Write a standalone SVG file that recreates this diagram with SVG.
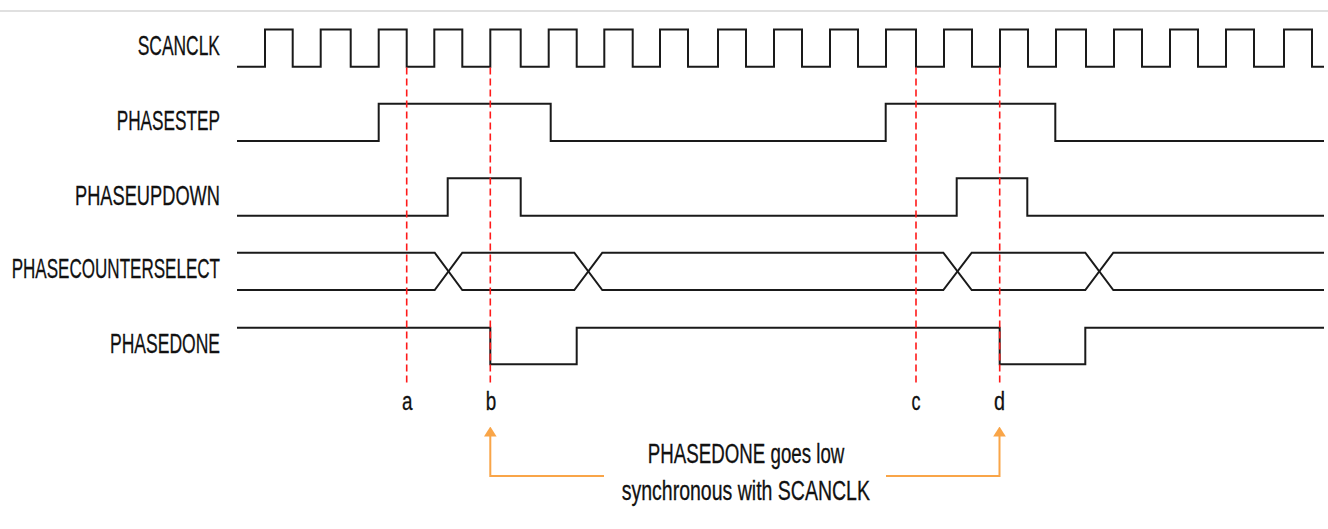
<svg xmlns="http://www.w3.org/2000/svg" width="1328" height="529" viewBox="0 0 1328 529">
<style>
.lbl{font-family:"Liberation Sans",Arial,sans-serif;font-size:28px;fill:#111;stroke:#111;stroke-width:0.3}
.ann{font-family:"Liberation Sans",Arial,sans-serif;font-size:27px;fill:#111;stroke:#111;stroke-width:0.3}
.let{font-family:"Liberation Sans",Arial,sans-serif;font-size:26px;fill:#111;stroke:#111;stroke-width:0.3;text-anchor:middle}
.wave{fill:none;stroke:#1a1a1a;stroke-width:2;stroke-linejoin:miter}
.mark{stroke:#ff1a1a;stroke-width:1.6;stroke-dasharray:7 4;fill:none}
.conn{fill:none;stroke:#f9a548;stroke-width:2}
</style>
<defs>
<marker id="arr" viewBox="0 0 10 12.6" markerWidth="10" markerHeight="12.6" refX="4.5" refY="6.3" orient="auto" markerUnits="userSpaceOnUse">
<path d="M0,0 L10,6.3 L0,12.6 z" fill="#f9a548"/>
</marker>
</defs>
<rect width="1328" height="529" fill="#fff"/>
<line x1="0" y1="11" x2="1328" y2="11" stroke="#d6d6d6" stroke-width="1.5"/>

<g id="scanclk">
<text class="lbl" x="137.7" y="55" textLength="82.3" lengthAdjust="spacingAndGlyphs">SCANCLK</text>
<path class="wave" d="M237 66.7 H265 V29.5 H292.7 V66.7 H320.7 V29.5 H350.7 V66.7 H378.7 V29.5 H406.7 V66.7 H434.3 V29.5 H462.3 V66.7 H490.3 V29.5 H520.7 V66.7 H548.7 V29.5 H576.7 V66.7 H604.3 V29.5 H632.7 V66.7 H660 V29.5 H688 V66.7 H718 V29.5 H746 V66.7 H774 V29.5 H802 V66.7 H830 V29.5 H858 V66.7 H886 V29.5 H916 V66.7 H944 V29.5 H972 V66.7 H1000 V29.5 H1028 V66.7 H1056 V29.5 H1086 V66.7 H1114 V29.5 H1142 V66.7 H1170 V29.5 H1198 V66.7 H1226 V29.5 H1254 V66.7 H1284 V29.5 H1312 V66.7 H1324"/>
</g>

<g id="phasestep">
<text class="lbl" x="116.7" y="130" textLength="103.3" lengthAdjust="spacingAndGlyphs">PHASESTEP</text>
<path class="wave" d="M237 141 H378.7 V103.7 H550.7 V141 H885.7 V103.7 H1055.3 V141 H1324"/>
</g>

<g id="phaseupdown">
<text class="lbl" x="75" y="205" textLength="145" lengthAdjust="spacingAndGlyphs">PHASEUPDOWN</text>
<path class="wave" d="M237 215.7 H447.7 V178.3 H520.7 V215.7 H956.7 V178.3 H1027.3 V215.7 H1324"/>
</g>

<g id="phasecounterselect">
<text class="lbl" x="11.7" y="278" textLength="208.3" lengthAdjust="spacingAndGlyphs">PHASECOUNTERSELECT</text>
<path class="wave" d="M237 252.7 H434.7 L462.3 290 H574.3 L602.3 252.7 H943.3 L971.7 290 H1085.3 L1113.3 252.7 H1324"/>
<path class="wave" d="M237 290 H434.7 L462.3 252.7 H574.3 L602.3 290 H943.3 L971.7 252.7 H1085.3 L1113.3 290 H1324"/>
</g>

<g id="phasedone">
<text class="lbl" x="110" y="353" textLength="110" lengthAdjust="spacingAndGlyphs">PHASEDONE</text>
<path class="wave" d="M237 327.7 H490.3 V364.3 H576.7 V327.7 H999.7 V364.3 H1085.3 V327.7 H1324"/>
</g>

<g id="markers">
<line class="mark" x1="406.7" y1="67.5" x2="406.7" y2="386"/>
<line class="mark" x1="490.3" y1="67.5" x2="490.3" y2="386"/>
<line class="mark" x1="916" y1="67.5" x2="916" y2="386"/>
<line class="mark" x1="999.7" y1="67.5" x2="999.7" y2="386"/>
<text class="let" x="407.3" y="409.5" textLength="10.5" lengthAdjust="spacingAndGlyphs">a</text>
<text class="let" x="491" y="409.5" textLength="10.5" lengthAdjust="spacingAndGlyphs">b</text>
<text class="let" x="916" y="409.5" textLength="9" lengthAdjust="spacingAndGlyphs">c</text>
<text class="let" x="999.5" y="409.5" textLength="11" lengthAdjust="spacingAndGlyphs">d</text>
</g>

<g id="annotation">
<text class="ann" x="647.7" y="463" textLength="196.7" lengthAdjust="spacingAndGlyphs">PHASEDONE goes low</text>
<text class="ann" x="621.7" y="500" textLength="248.3" lengthAdjust="spacingAndGlyphs">synchronous with SCANCLK</text>
</g>

<g id="connectors">
<path class="conn" d="M604 476 H490.3 V432" marker-end="url(#arr)"/>
<path class="conn" d="M886 476 H999.5 V432" marker-end="url(#arr)"/>
</g>
</svg>
